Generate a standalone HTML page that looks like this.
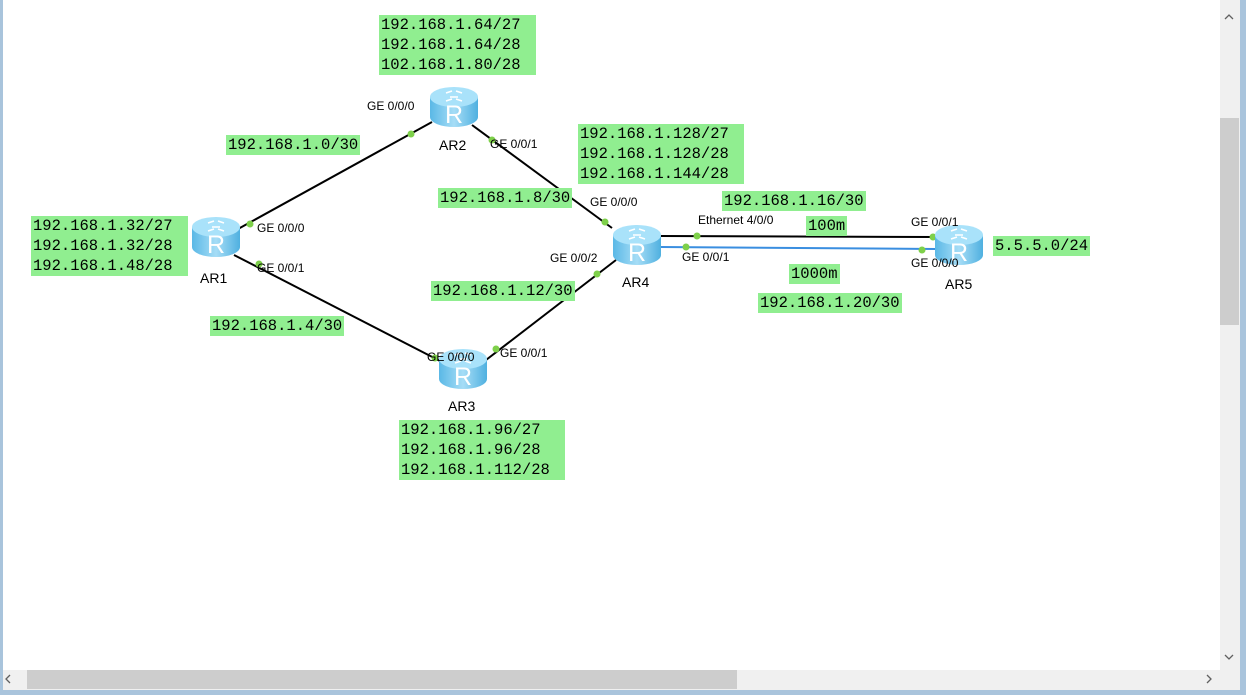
<!DOCTYPE html>
<html><head><meta charset="utf-8"><style>
body{margin:0;width:1246px;height:695px;overflow:hidden;background:#fff;position:relative;font-family:"Liberation Sans",sans-serif}
.l{position:absolute;background:#90ee90;font-family:"Liberation Mono",monospace;font-size:15.5px;line-height:20px;padding:0 2px;color:#000;white-space:pre}
.m{padding-right:15px}
.t{position:absolute;font-size:12px;color:#000;white-space:nowrap}
.n{position:absolute;font-size:14px;color:#000}
</style></head><body>
<svg width="1246" height="695" style="position:absolute;left:0;top:0">
<defs>
<linearGradient id="g" x1="0" x2="1"><stop offset="0" stop-color="#5ab8e6"/><stop offset=".5" stop-color="#a6ddf6"/><stop offset="1" stop-color="#4fb0e0"/></linearGradient>
<g id="r"><path d="M-24,-10 L-24,10 A24,10 0 0 0 24,10 L24,-10 Z" fill="url(#g)"/><ellipse cx="0" cy="-10" rx="24" ry="10" fill="#a9e2fa"/><path d="M-8,-14 l6,-2 M8,-14 l-6,-2 M-8,-6 l6,-2 M8,-6 l-6,-2 M-4,-10 h8" stroke="#fff" stroke-width="1.5"/><text x="0" y="16" font-family="Liberation Sans" font-size="25" fill="#fff" text-anchor="middle">R</text></g>
</defs>
<g stroke="#000" stroke-width="2">
<line x1="238" y1="229" x2="432" y2="122"/>
<line x1="234" y1="255" x2="442" y2="362"/>
<line x1="472" y1="125" x2="612" y2="228"/>
<line x1="486" y1="360" x2="616" y2="260"/>
<line x1="660" y1="236" x2="936" y2="237"/>
</g>
<line x1="660" y1="247" x2="936" y2="249" stroke="#3a8ee0" stroke-width="2"/>
<g fill="#7ed04a">
<circle cx="411" cy="134" r="3.5"/><circle cx="250" cy="224" r="3.5"/><circle cx="259" cy="264" r="3.5"/><circle cx="492" cy="140" r="3.5"/>
<circle cx="605" cy="222" r="3.5"/><circle cx="597" cy="274" r="3.5"/><circle cx="496" cy="349" r="3.5"/><circle cx="435" cy="358" r="3.5"/>
<circle cx="697" cy="236" r="3.5"/><circle cx="686" cy="247" r="3.5"/><circle cx="933" cy="237" r="3.5"/><circle cx="922" cy="250" r="3.5"/>
</g>
<use href="#r" x="216" y="237"/><use href="#r" x="454" y="107"/><use href="#r" x="463" y="369"/><use href="#r" x="637" y="245"/><use href="#r" x="959" y="245"/>
<rect x="1220" y="0" width="20" height="670" fill="#f0f0f0"/><rect x="1220" y="118" width="19" height="207" fill="#cdcdcd"/>
<rect x="0" y="670" width="1240" height="20" fill="#f0f0f0"/><rect x="27" y="670" width="710" height="19" fill="#cdcdcd"/>
<rect x="1240" y="0" width="6" height="695" fill="#a9c4dc"/><rect x="0" y="690" width="1246" height="5" fill="#a9c4dc"/><rect x="0" y="0" width="3" height="695" fill="#a9c4dc"/>
<path d="M1225,19 l4,-4 l4,4 M1225,655 l4,4 l4,-4 M10,675 l-4,4 l4,4 M1207,675 l4,4 l-4,4" stroke="#606060" stroke-width="1.3" fill="none"/>
</svg>
<div class="l m" style="left:379px;top:15px">192.168.1.64/27
192.168.1.64/28
102.168.1.80/28</div>
<div class="l" style="left:226px;top:135px">192.168.1.0/30</div>
<div class="l m" style="left:31px;top:216px">192.168.1.32/27
192.168.1.32/28
192.168.1.48/28</div>
<div class="l m" style="left:578px;top:124px">192.168.1.128/27
192.168.1.128/28
192.168.1.144/28</div>
<div class="l" style="left:438px;top:188px">192.168.1.8/30</div>
<div class="l" style="left:722px;top:191px">192.168.1.16/30</div>
<div class="l" style="left:806px;top:216px">100m</div>
<div class="l" style="left:789px;top:264px">1000m</div>
<div class="l" style="left:758px;top:293px">192.168.1.20/30</div>
<div class="l" style="left:993px;top:236px">5.5.5.0/24</div>
<div class="l" style="left:431px;top:281px">192.168.1.12/30</div>
<div class="l" style="left:210px;top:316px">192.168.1.4/30</div>
<div class="l m" style="left:399px;top:420px">192.168.1.96/27
192.168.1.96/28
192.168.1.112/28</div>
<div class="t" style="left:367px;top:99px">GE 0/0/0</div>
<div class="t" style="left:257px;top:221px">GE 0/0/0</div>
<div class="t" style="left:257px;top:261px">GE 0/0/1</div>
<div class="t" style="left:490px;top:137px">GE 0/0/1</div>
<div class="t" style="left:590px;top:195px">GE 0/0/0</div>
<div class="t" style="left:550px;top:251px">GE 0/0/2</div>
<div class="t" style="left:500px;top:346px">GE 0/0/1</div>
<div class="t" style="left:427px;top:350px">GE 0/0/0</div>
<div class="t" style="left:698px;top:213px">Ethernet 4/0/0</div>
<div class="t" style="left:682px;top:250px">GE 0/0/1</div>
<div class="t" style="left:911px;top:215px">GE 0/0/1</div>
<div class="t" style="left:911px;top:256px">GE 0/0/0</div>
<div class="n" style="left:200px;top:270px">AR1</div>
<div class="n" style="left:439px;top:137px">AR2</div>
<div class="n" style="left:448px;top:398px">AR3</div>
<div class="n" style="left:622px;top:274px">AR4</div>
<div class="n" style="left:945px;top:276px">AR5</div>
</body></html>
